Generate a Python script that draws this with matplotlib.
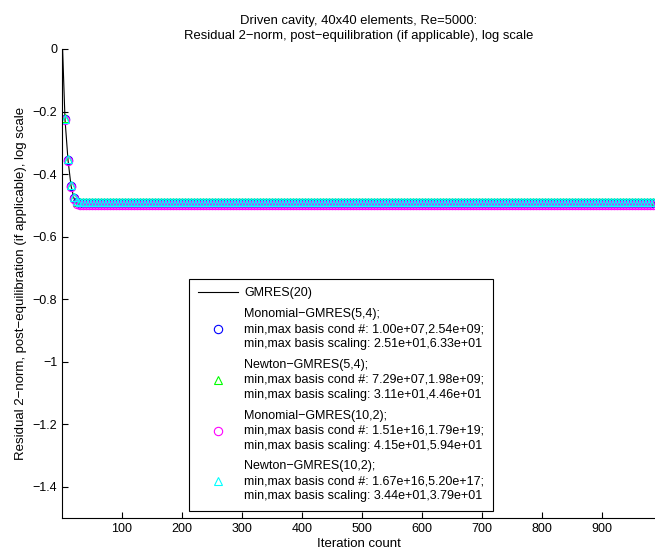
import numpy as np
import matplotlib
matplotlib.use('Agg')
import matplotlib.pyplot as plt

plt.rcParams['font.family'] = ['Liberation Sans', 'DejaVu Sans']
plt.rcParams['font.size'] = 9

# Datos
# GMRES(20): línea continua
gmres_it = [1, 5, 10, 15, 20, 25, 30, 40, 60, 100, 300, 600, 990]
gmres_res = [0.0, -0.225, -0.355, -0.437, -0.478, -0.494, -0.497, -0.498, -0.499,
             -0.499, -0.499, -0.499, -0.499]

# marcadores cada 5 iteraciones
mark_it = np.arange(5, 990, 5)
n_tail = len(mark_it) - 5

mono54_res = [-0.225, -0.355, -0.437, -0.476, -0.490] + [-0.493] * n_tail
newt54_res = [-0.222, -0.353, -0.434, -0.474, -0.488] + [-0.490] * n_tail
mono102_res = [-0.228, -0.358, -0.440, -0.480, -0.495] + [-0.499] * n_tail
newt102_res = [-0.224, -0.352, -0.435, -0.473, -0.486] + [-0.488] * n_tail

etiquetas = [
    'GMRES(20)',
    'Monomial\u2212GMRES(5,4);\nmin,max basis cond #: 1.00e+07,2.54e+09;\nmin,max basis scaling: 2.51e+01,6.33e+01',
    'Newton\u2212GMRES(5,4);\nmin,max basis cond #: 7.29e+07,1.98e+09;\nmin,max basis scaling: 3.11e+01,4.46e+01',
    'Monomial\u2212GMRES(10,2);\nmin,max basis cond #: 1.51e+16,1.79e+19;\nmin,max basis scaling: 4.15e+01,5.94e+01',
    'Newton\u2212GMRES(10,2);\nmin,max basis cond #: 1.67e+16,5.20e+17;\nmin,max basis scaling: 3.44e+01,3.79e+01',
]

yticks = [0, -0.2, -0.4, -0.6, -0.8, -1.0, -1.2, -1.4]
ytick_lbl = ['0', '\u22120.2', '\u22120.4', '\u22120.6', '\u22120.8', '\u22121', '\u22121.2', '\u22121.4']
xticks = [100, 200, 300, 400, 500, 600, 700, 800, 900]

##############################################################################
# GRAFICACIÓN
fig = plt.figure(figsize=(6.55, 5.54), dpi=100)
ax = fig.add_axes([62/655, 36/554, 593/655, 469/554])

ax.plot(gmres_it, gmres_res, color='k', lw=0.8, label=etiquetas[0])
ms = 6
ax.plot(mark_it, mono54_res, 'o', mfc='none', mec=(0, 0, 1), ms=ms, mew=0.8, label=etiquetas[1])
ax.plot(mark_it, newt54_res, '^', mfc='none', mec=(0, 1, 0), ms=ms, mew=0.8, label=etiquetas[2])
ax.plot(mark_it, mono102_res, 'o', mfc='none', mec=(1, 0, 1), ms=ms, mew=0.8, label=etiquetas[3])
ax.plot(mark_it, newt102_res, '^', mfc='none', mec=(0, 1, 1), ms=ms, mew=0.8, label=etiquetas[4])

ax.set_xlim(0, 988)
ax.set_ylim(-1.5, 0)
ax.set_xticks(xticks)
ax.set_yticks(yticks)
ax.set_yticklabels(ytick_lbl)
ax.tick_params(direction='in', length=4, width=0.8)
ax.spines['top'].set_visible(False)
ax.spines['right'].set_visible(False)

ax.set_xlabel('Iteration count', fontsize=9.5, labelpad=2)
ax.set_ylabel('Residual 2\u2212norm, post\u2212equilibration (if applicable), log scale',
              fontsize=9.5, labelpad=4)
ax.set_title('Driven cavity, 40x40 elements, Re=5000:\nResidual 2\u2212norm, post\u2212equilibration (if applicable), log scale',
             fontsize=9.4, pad=7, linespacing=1.35)

leg = ax.legend(loc='lower left', bbox_to_anchor=(0.214, 0.015), fancybox=False,
                edgecolor='k', framealpha=1, labelspacing=0.7, handlelength=3.2,
                borderpad=0.7, handletextpad=0.5, borderaxespad=0)
leg.get_frame().set_linewidth(0.8)
for t in leg.get_texts():
    t.set_linespacing(1.33)

plt.savefig('out.png', dpi=100)
